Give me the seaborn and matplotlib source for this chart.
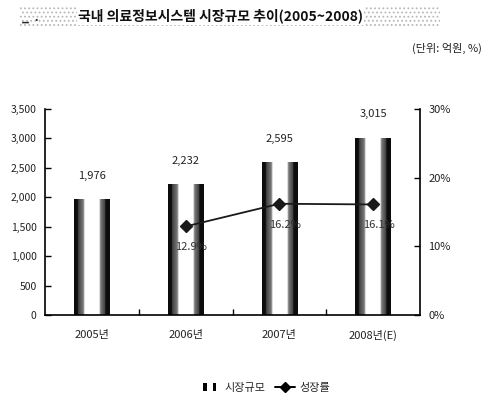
import numpy as np
import pandas as pd
import matplotlib
matplotlib.use("Agg")
import matplotlib.pyplot as plt
from matplotlib.patches import Rectangle
from matplotlib.lines import Line2D
from matplotlib.legend_handler import HandlerBase
import seaborn as sns

# Market size of medical information systems in Korea (100 million KRW) and growth rate (%)
years = ["2005년", "2006년", "2007년", "2008년(E)"]
market_size = [1976, 2232, 2595, 3015]
growth_years = ["2006년", "2007년", "2008년(E)"]
growth_rate = [12.9, 16.2, 16.1]

left_ticks = [0, 500, 1000, 1500, 2000, 2500, 3000, 3500]
right_ticks = [0, 10, 20, 30]

sns.set_theme(style="white")
plt.rcParams["font.family"] = ["Noto Sans CJK KR", "DejaVu Sans"]
plt.rcParams["hatch.linewidth"] = 0.8

fig = plt.figure(figsize=(4.99, 4.01), dpi=100)
ax = fig.add_axes([45 / 499, 1 - 315 / 401, 375 / 499, 206 / 401])

df_bar = pd.DataFrame({"연도": years, "시장규모": market_size})
sns.barplot(data=df_bar, x="연도", y="시장규모", order=years, color="white",
            width=0.38, edgecolor="none", linewidth=0, ax=ax, zorder=2)

# cylinder-style shading: dark edges, speckled grey band, white centre
n = 300
t = np.linspace(0, 1, n)
dark = np.zeros(n)
dark[t < 0.11] = 1.0
m = (t >= 0.11) & (t < 0.26)
dark[m] = 0.55 + 0.25 * (0.26 - t[m]) / 0.15
m = (t >= 0.26) & (t < 0.30)
dark[m] = 0.55 * (0.30 - t[m]) / 0.04
m = (t >= 0.70) & (t < 0.74)
dark[m] = 0.55 * (t[m] - 0.70) / 0.04
m = (t >= 0.74) & (t < 0.87)
dark[m] = 0.55 + 0.25 * (t[m] - 0.74) / 0.13
dark[t >= 0.87] = 1.0
shade = 1 - dark * 0.95
grad = np.dstack([shade, shade, shade]).reshape(1, n, 3)

for patch in list(ax.patches):
    x0, y0 = patch.get_x(), patch.get_y()
    w, h = patch.get_width(), patch.get_height()
    im = ax.imshow(grad, extent=[x0, x0 + w, y0, y0 + h], aspect="auto",
                   interpolation="bilinear", zorder=2.5)
    im.set_clip_path(patch)

ax.bar_label(ax.containers[0], labels=[f"{v:,}" for v in market_size],
             padding=13, fontsize=8, color="#222222")

ax.set_xlim(-0.5, 3.5)
ax.set_ylim(0, 3500)
ax.set_yticks(left_ticks)
ax.set_yticklabels([f"{v:,}" for v in left_ticks])
ax.set_xlabel("")
ax.set_ylabel("")
ax.set_xticks(range(len(years)))
ax.set_xticklabels(years)
ax.set_xticks([0.5, 1.5, 2.5], minor=True)
ax.tick_params(axis="x", which="major", length=0, pad=11, labelsize=8, colors="#222222")
ax.tick_params(axis="x", which="minor", direction="in", length=4, width=1, color="black", bottom=True)
ax.tick_params(axis="y", direction="in", length=4, width=1, color="black", left=True,
               pad=6, labelsize=7.5, labelcolor="#222222")

for side in ["left", "bottom", "right"]:
    ax.spines[side].set_visible(True)
    ax.spines[side].set_color("black")
    ax.spines[side].set_linewidth(1.2)
ax.spines["top"].set_visible(False)

# growth rate on the secondary axis
ax2 = ax.twinx()
df_line = pd.DataFrame({"연도": growth_years, "성장률": growth_rate})
sns.pointplot(data=df_line, x="연도", y="성장률", order=years, color="#1a1a1a",
              markers="D", markersize=6, linewidth=1.3, ax=ax2, zorder=4)
ax2.set_xlim(-0.5, 3.5)
ax2.set_ylim(0, 30)
ax2.set_yticks(right_ticks)
ax2.set_yticklabels([f"{v}%" for v in right_ticks])
ax2.set_ylabel("")
ax2.set_xlabel("")
ax2.tick_params(axis="y", direction="in", length=4, width=1, color="black", right=True,
                pad=6, labelsize=8, labelcolor="#222222")
for side in ["left", "bottom", "top", "right"]:
    ax2.spines[side].set_visible(False)
ax2.grid(False)
ax.grid(False)

for yr, g in zip(growth_years, growth_rate):
    xi = years.index(yr)
    ax2.annotate(f"{g}%", (xi, g), xytext=(4, -15), textcoords="offset points",
                 ha="center", va="center", fontsize=8, color="#333333", zorder=5)

# title band and unit note
fig.patches.append(Rectangle((20 / 499, 1 - 26 / 401), 420 / 499, 20 / 401,
                             transform=fig.transFigure, facecolor="white",
                             edgecolor="#b8b8b8", hatch="....", linewidth=0, zorder=0))
fig.text(22 / 499, 1 - 17 / 401, "_  .", fontsize=9, fontweight="bold", va="center", ha="left")
fig.text(78 / 499, 1 - 16 / 401, "국내 의료정보시스템 시장규모 추이(2005~2008)",
         fontsize=10, fontweight="bold", va="center", ha="left", color="#111111",
         bbox=dict(facecolor="white", edgecolor="none", pad=1))
fig.text(482 / 499, 1 - 48 / 401, "(단위: 억원, %)", fontsize=8, va="center", ha="right",
         color="#222222")


class TwinBarHandler(HandlerBase):
    def create_artists(self, legend, orig_handle, xdescent, ydescent, width, height,
                       fontsize, trans):
        bw = width * 0.18
        r1 = Rectangle((xdescent + width * 0.15, ydescent), bw, height, facecolor="black",
                       edgecolor="none", transform=trans)
        r2 = Rectangle((xdescent + width * 0.62, ydescent), bw, height, facecolor="black",
                       edgecolor="none", transform=trans)
        return [r1, r2]


bar_handle = Rectangle((0, 0), 1, 1)
line_handle = Line2D([], [], color="black", marker="D", markersize=5, linewidth=1.4)
fig.legend([bar_handle, line_handle], ["시장규모", "성장률"],
           handler_map={Rectangle: TwinBarHandler()},
           loc="center", bbox_to_anchor=(265 / 499, 1 - 388 / 401), ncol=2,
           frameon=False, fontsize=8, handlelength=1.8, columnspacing=0.8,
           handletextpad=0.4)

fig.savefig("out.png", dpi=100)
